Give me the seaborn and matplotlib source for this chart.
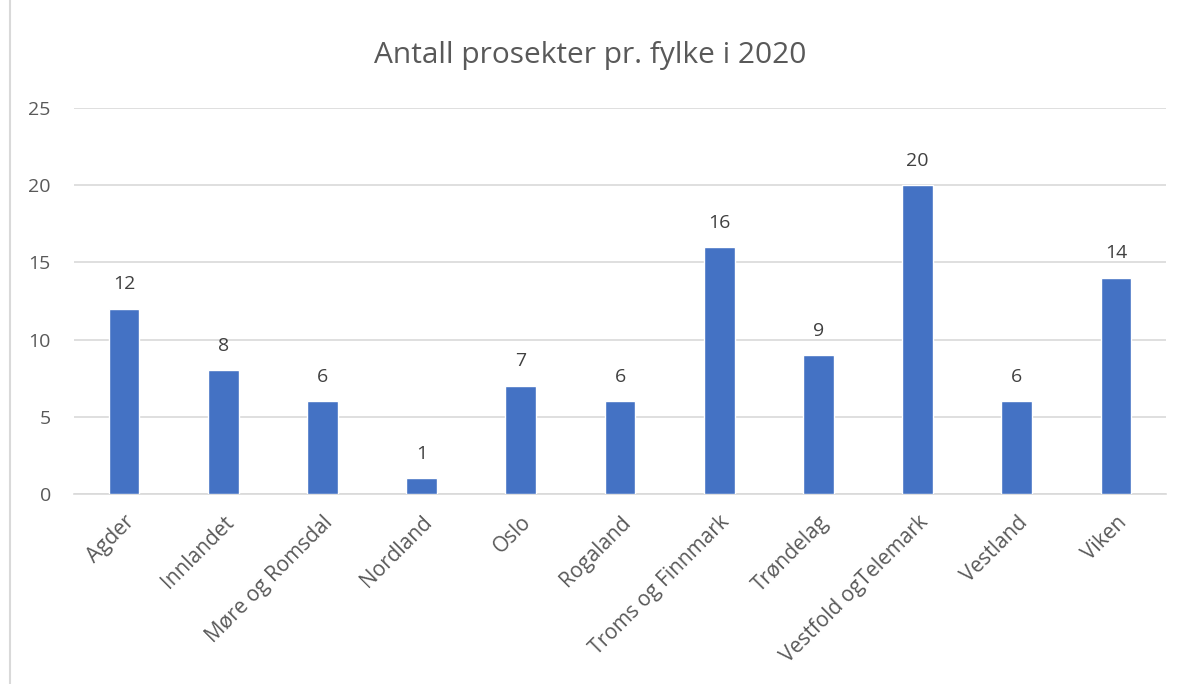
import matplotlib
matplotlib.use("Agg")
import matplotlib.pyplot as plt
import seaborn as sns
import pandas as pd

fylker = ["Agder", "Innlandet", "Møre og Romsdal", "Nordland", "Oslo", "Rogaland",
          "Troms og Finnmark", "Trøndelag", "Vestfold ogTelemark", "Vestland", "Viken"]
antall = [12, 8, 6, 1, 7, 6, 16, 9, 20, 6, 14]

df = pd.DataFrame({"fylke": fylker, "antall": antall})

sns.set_style("white")
plt.rcParams['font.family'] = ['Open Sans', 'DejaVu Sans']

text_color = "#595959"
fig = plt.figure(figsize=(11.81, 6.84), dpi=100)
ax = fig.add_axes([0.063, 0.278, 0.924, 0.564])

sns.barplot(data=df, x="fylke", y="antall", color="#4472C4", width=0.31,
            saturation=1, ax=ax, zorder=3)

# value labels above the bars
for i, v in enumerate(antall):
    ax.text(i, v + 1.0, str(v), ha="center", va="bottom", fontsize=14, color="#404040")

ax.set_ylim(0, 25)
ax.set_yticks(range(0, 26, 5))
ax.yaxis.grid(True, color="#D9D9D9", linewidth=1.2, zorder=0)
ax.set_xlabel("")
ax.set_ylabel("")
ax.set_xticks(range(len(fylker)))
ax.set_xticklabels(fylker, rotation=45, ha="right", rotation_mode="anchor",
                   fontsize=15, color=text_color)
ax.tick_params(axis="y", labelsize=14, labelcolor=text_color, length=0, pad=17)
ax.tick_params(axis="x", length=0, pad=13)
for s in ["top", "right", "left"]:
    ax.spines[s].set_visible(False)
ax.spines["bottom"].set_color("#D9D9D9")
ax.spines["bottom"].set_linewidth(1.2)

fig.suptitle("Antall prosekter pr. fylke i 2020", y=0.94, fontsize=21.5, color=text_color)

# chart frame edge on the left
fig.add_artist(plt.Line2D([0.0085, 0.0085], [0, 1], transform=fig.transFigure,
                          color="#D9D9D9", linewidth=1.5))

fig.savefig("out.png", dpi=100)
